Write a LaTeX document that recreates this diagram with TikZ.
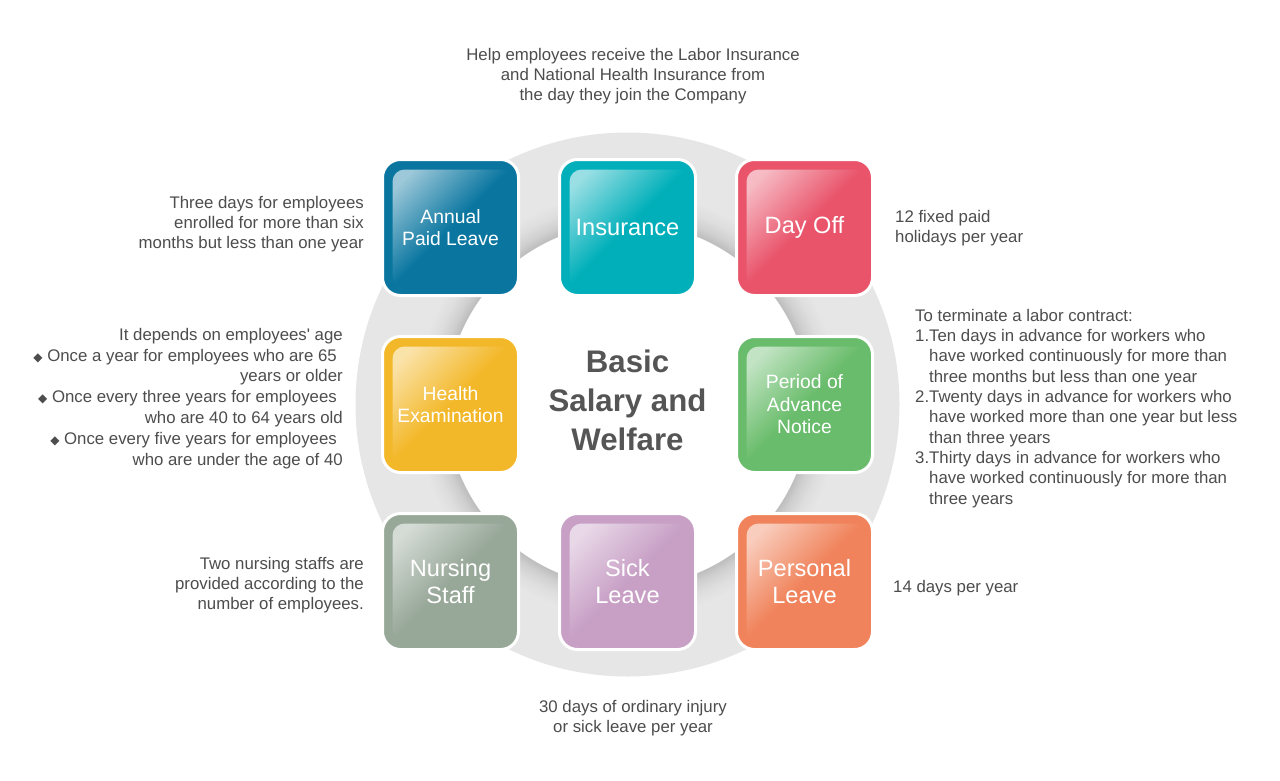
\documentclass[tikz,border=0pt]{standalone}
\usepackage{fontspec}
\setmainfont{Liberation Sans}
\newfontfamily\dejavu{DejaVu Sans}
\newfontfamily\plainsans[Ligatures=NoCommon]{Liberation Sans}
\usetikzlibrary{positioning}
\definecolor{cAnnual}{HTML}{0A76A0}
\definecolor{cIns}{HTML}{00AFBA}
\definecolor{cDay}{HTML}{E9546B}
\definecolor{cHealth}{HTML}{F3B829}
\definecolor{cPeriod}{HTML}{69BC6B}
\definecolor{cNurse}{HTML}{97A798}
\definecolor{cSick}{HTML}{C8A0C6}
\definecolor{cPers}{HTML}{F0835B}
\definecolor{txt}{HTML}{4D4D4D}
\definecolor{ctr}{HTML}{555555}
\definecolor{ringgray}{HTML}{E6E6E6}
\definecolor{ringdark}{HTML}{BDBDBD}
\pgfdeclareradialshading{ringsh}{\pgfpoint{0bp}{0bp}}{color(0bp)=(white); color(16.71bp)=(white); color(16.73bp)=(ringdark); color(17.5bp)=(ringdark!55!ringgray); color(18.5bp)=(ringdark!20!ringgray); color(19.6bp)=(ringgray); color(25bp)=(ringgray); color(50bp)=(ringgray)}
\newcommand{\dia}{{\dejavu\fontsize{12}{12}\selectfont ◆}\ }
\tikzset{
  box/.style={rounded corners=18pt, minimum width=136pt, minimum height=136pt,
    draw=white, line width=3pt, fill=#1, text=white, align=center, inner sep=0pt,
    path picture={\shade[rounded corners=12pt, top color=white!60!#1, bottom color=#1,
      middle color=#1, shading angle=45]
      ([xshift=10pt,yshift=-10pt]path picture bounding box.north west) rectangle
      ([xshift=-7pt,yshift=7pt]path picture bounding box.south east);}},
  small/.style={font=\fontsize{19.3}{22.5}\selectfont},
  big/.style={font=\fontsize{23.6}{27}\selectfont},
  desc/.style={text=txt, inner sep=0pt, font=\fontsize{16.8}{20.3}\selectfont},
}
\begin{document}
\begin{tikzpicture}[x=1pt,y=-1pt]
\fill[white] (0,0) rectangle (1280,780);
\useasboundingbox (0,0) rectangle (1280,780);
% ring
\coordinate (c) at (627.5,404.5);
\shade[shading=ringsh] (c) circle (272pt);
% boxes
\node[box=cAnnual, small] (annual) at (450.5,227.5) {Annual\\Paid Leave};
\node[box=cIns, big] (ins) at (627.5,227.5) {Insurance};
\node[box=cDay, big] (day) at (804.5,227.5) {Day Off};
\node[box=cHealth, small] (health) at (450.5,404.5) {Health\\Examination};
\node[box=cPeriod, small] (period) at (804.5,404.5) {Period of\\Advance\\Notice};
\node[box=cNurse, big] (nurse) at (450.5,581.5) {Nursing\\Staff};
\node[box=cSick, big] (sick) at (627.5,581.5) {Sick\\Leave};
\node[box=cPers, big] (pers) at (804.5,581.5) {Personal\\Leave};
% centre
\node[text=ctr, align=center, font=\fontsize{31.2}{39}\selectfont\bfseries] (title) at (627.5,400) {Basic\\Salary and\\Welfare};
% descriptions
\node[desc, align=center, anchor=north] (tins) at (633,48) {Help employees receive the Labor Insurance\\and National Health Insurance from\\the day they join the Company};
\node[desc, align=right, anchor=north east] (tann) at (364,196) {Three days for employees\\enrolled for more than six\\months but less than one year};
\node[desc, align=left, anchor=north west] (tday) at (895,210) {12 fixed paid\\holidays per year};
\node[desc, align=right, anchor=north east, font=\fontsize{16.8}{20.8}\selectfont] (thealth) at (343,328) {It depends on employees\textquotesingle{} age\\
\dia Once a year for employees who are 65\kern6pt\\
years or older\\
\dia Once every three years for employees\kern6pt\\
who are 40 to 64 years old\\
\dia Once every five years for employees\kern6pt\\
who are under the age of 40};
\node[desc, align=left, anchor=north west] (tperiod) at (915,309) {To terminate a labor contract:\\
1.Ten days in advance for workers who\\
\hphantom{1.}have worked continuously for more than\\
\hphantom{1.}three months but less than one year\\
2.Twenty days in advance for workers who\\
\hphantom{2.}have worked more than one year but less\\
\hphantom{2.}than three years\\
3.Thirty days in advance for workers who\\
\hphantom{3.}have worked continuously for more than\\
\hphantom{3.}three years};
\node[desc, align=right, anchor=north east] (tnurse) at (364,557) {Two nursing staffs are\\provided according to the\\number of employees.};
\node[desc, align=left, anchor=north west] (tpers) at (893,580) {14 days per year};
\node[desc, align=center, anchor=north] (tsick) at (633,700) {30 days of ordinary injury\\or sick leave per year};
\end{tikzpicture}
\end{document}
